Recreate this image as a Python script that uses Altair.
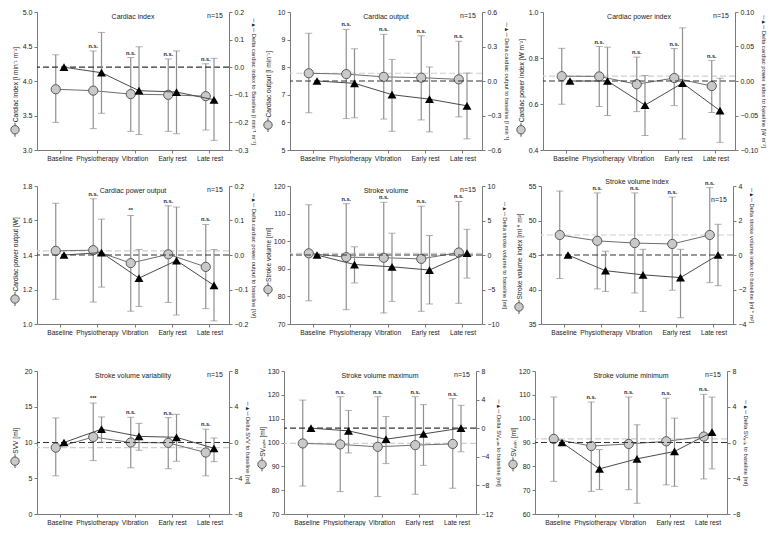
import altair as alt
import numpy as np
import pandas as pd

CATS = ["Baseline", "Physiotherapy", "Vibration", "Early rest", "Late rest"]
N_TEXT = "n=15"
NAN = float("nan")

# 1 Cardiac index
ci_mean = [3.88, 3.86, 3.81, 3.80, 3.78]
ci_lo = [3.40, 3.31, 3.27, 3.27, 3.29]
ci_hi = [4.38, 4.435, 4.34, 4.32, 4.25]
dci_mean = [0.0, -0.02, -0.085, -0.09, -0.118]
dci_lo = [NAN, -0.167, -0.244, -0.241, -0.265]
dci_hi = [NAN, 0.126, 0.074, 0.059, 0.032]
ci_sig = ["", "n.s.", "n.s.", "n.s.", "n.s."]
ci_lticks = [3.0, 3.5, 4.0, 4.5, 5.0]
ci_rticks = [-0.3, -0.2, -0.1, 0.0, 0.1, 0.2]

# 2 Cardiac output
co_mean = [7.78, 7.75, 7.65, 7.62, 7.56]
co_lo = [6.35, 6.14, 6.12, 6.09, 6.20]
co_hi = [9.23, 9.37, 9.19, 9.14, 8.94]
dco_mean = [0.0, -0.02, -0.119, -0.158, -0.216]
dco_lo = [NAN, -0.32, -0.437, -0.442, -0.503]
dco_hi = [NAN, 0.28, 0.188, 0.122, 0.069]
co_sig = ["", "n.s.", "n.s.", "n.s.", "n.s."]
co_lticks = [5, 6, 7, 8, 9, 10]
co_rticks = [-0.6, -0.3, 0.0, 0.3, 0.6]

# 3 Cardiac power index
cpi_mean = [0.721, 0.72, 0.686, 0.713, 0.678]
cpi_lo = [0.599, 0.589, 0.567, 0.593, 0.563]
cpi_hi = [0.842, 0.85, 0.804, 0.841, 0.789]
dcpi_mean = [0.0, 0.0, -0.035, -0.003, -0.043]
dcpi_lo = [NAN, -0.05, -0.079, -0.084, -0.089]
dcpi_hi = [NAN, 0.049, 0.008, 0.077, 0.004]
cpi_sig = ["", "n.s.", "n.s.", "n.s.", "n.s."]
cpi_lticks = [0.4, 0.6, 0.8, 1.0]
cpi_rticks = [-0.10, -0.05, 0.0, 0.05, 0.10]

# 4 Cardiac power output
cpo_mean = [1.424, 1.428, 1.353, 1.404, 1.331]
cpo_lo = [1.143, 1.127, 1.074, 1.125, 1.089]
cpo_hi = [1.70, 1.726, 1.629, 1.685, 1.577]
dcpo_mean = [0.0, 0.007, -0.067, -0.016, -0.088]
dcpo_lo = [NAN, -0.093, -0.149, -0.174, -0.191]
dcpo_hi = [NAN, 0.104, 0.016, 0.139, 0.016]
cpo_sig = ["", "n.s.", "**", "n.s.", "n.s."]
cpo_lticks = [1.0, 1.2, 1.4, 1.6, 1.8]
cpo_rticks = [-0.2, -0.1, 0.0, 0.1, 0.2]

# 5 Stroke volume
sv_mean = [95.6, 94.2, 94.0, 93.6, 95.9]
sv_lo = [78.4, 75.2, 74.0, 74.6, 77.5]
sv_hi = [113.2, 113.6, 114.1, 112.7, 114.4]
dsv_mean = [0.0, -1.38, -1.71, -2.18, 0.26]
dsv_lo = [NAN, -4.05, -6.72, -7.1, -3.35]
dsv_hi = [NAN, 1.19, 3.16, 2.83, 3.72]
sv_sig = ["", "n.s.", "n.s.", "n.s.", "n.s."]
sv_lticks = [70, 80, 90, 100, 110, 120]
sv_rticks = [-10, -5, 0, 5, 10]

# 6 Stroke volume index
svi_mean = [47.9, 47.05, 46.73, 46.6, 47.9]
svi_lo = [41.6, 40.09, 39.5, 39.9, 41.0]
svi_hi = [54.27, 54.0, 54.0, 53.4, 54.77]
dsvi_mean = [0.0, -0.91, -1.15, -1.31, 0.0]
dsvi_lo = [NAN, -2.11, -3.27, -3.64, -1.78]
dsvi_hi = [NAN, 0.22, 0.33, 0.33, 1.78]
svi_sig = ["", "n.s.", "n.s.", "n.s.", "n.s."]
svi_lticks = [35, 40, 45, 50, 55]
svi_rticks = [-4, -2, 0, 2, 4]

# 7 Stroke volume variability
svv_mean = [9.28, 10.77, 10.0, 9.95, 8.6]
svv_lo = [5.34, 7.47, 6.47, 6.33, 5.34]
svv_hi = [13.44, 15.52, 13.53, 13.48, 11.86]
dsvv_mean = [0.0, 1.49, 0.69, 0.58, -0.65]
dsvv_lo = [NAN, 0.04, -0.87, -2.1, -2.14]
dsvv_hi = [NAN, 2.86, 2.14, 3.15, 0.51]
svv_sig = ["", "***", "n.s.", "n.s.", "n.s."]
svv_lticks = [0, 5, 10, 15, 20]
svv_rticks = [-8, -4, 0, 4, 8]

# 8 Stroke volume maximum
svmax_mean = [99.6, 99.2, 98.2, 98.9, 99.4]
svmax_lo = [81.75, 79.4, 77.3, 78.3, 80.8]
svmax_hi = [117.8, 119.2, 119.2, 119.2, 118.4]
dsvmax_mean = [0.0, -0.37, -1.54, -0.8, 0.0]
dsvmax_lo = [NAN, -3.46, -4.95, -5.2, -3.3]
dsvmax_hi = [NAN, 2.48, 1.64, 3.3, 3.2]
svmax_sig = ["", "n.s.", "n.s.", "n.s.", "n.s."]
svmax_lticks = [70, 80, 90, 100, 110, 120, 130]
svmax_rticks = [-12, -8, -4, 0, 4, 8]

# 9 Stroke volume minimum
svmin_mean = [91.5, 88.5, 89.4, 90.5, 92.5]
svmin_lo = [73.7, 69.5, 70.2, 72.2, 74.7]
svmin_hi = [109.1, 107.0, 109.1, 108.6, 110.2]
dsvmin_mean = [0.0, -2.95, -1.83, -1.0, 1.16]
dsvmin_lo = [NAN, -5.27, -6.8, -4.9, -2.95]
dsvmin_hi = [NAN, -0.79, 1.98, 2.73, 5.08]
svmin_sig = ["", "n.s.", "n.s.", "n.s.", "n.s."]
svmin_lticks = [60, 70, 80, 90, 100, 110, 120]
svmin_rticks = [-8, -4, 0, 4, 8]

PANELS = [
    dict(title="Cardiac index", lt="Cardiac index [l min⁻¹ m⁻²]",
         rt="Delta cardiac index to Baseline [l min⁻¹ m⁻²]",
         cm=ci_mean, clo=ci_lo, chi=ci_hi, tm=dci_mean, tlo=dci_lo, thi=dci_hi,
         sig=ci_sig, base=None, ldom=[3, 5], lvals=ci_lticks, lfmt=".1f",
         rdom=[-0.3, 0.2], rvals=ci_rticks, rfmt=".1f"),
    dict(title="Cardiac output", lt="Cardiac output [l min⁻¹]",
         rt="Delta cardiac output to baseline [l min⁻¹]",
         cm=co_mean, clo=co_lo, chi=co_hi, tm=dco_mean, tlo=dco_lo, thi=dco_hi,
         sig=co_sig, base=co_mean[0], ldom=[5, 10], lvals=co_lticks, lfmt="d",
         rdom=[-0.6, 0.6], rvals=co_rticks, rfmt=".1f"),
    dict(title="Cardiac power index", lt="Cardiac power index [W m⁻²]",
         rt="Delta cardiac power index to baseline [W m⁻²]",
         cm=cpi_mean, clo=cpi_lo, chi=cpi_hi, tm=dcpi_mean, tlo=dcpi_lo, thi=dcpi_hi,
         sig=cpi_sig, base=cpi_mean[0], ldom=[0.4, 1.0], lvals=cpi_lticks, lfmt=".1f",
         rdom=[-0.1, 0.1], rvals=cpi_rticks, rfmt=".2f"),
    dict(title="Cardiac power output", lt="Cardiac power output [W]",
         rt="Delta cardiac power output to baseline [W]",
         cm=cpo_mean, clo=cpo_lo, chi=cpo_hi, tm=dcpo_mean, tlo=dcpo_lo, thi=dcpo_hi,
         sig=cpo_sig, base=cpo_mean[0], ldom=[1.0, 1.8], lvals=cpo_lticks, lfmt=".1f",
         rdom=[-0.2, 0.2], rvals=cpo_rticks, rfmt=".1f"),
    dict(title="Stroke volume", lt="Stroke volume [ml]",
         rt="Delta stroke volume to baseline [ml]",
         cm=sv_mean, clo=sv_lo, chi=sv_hi, tm=dsv_mean, tlo=dsv_lo, thi=dsv_hi,
         sig=sv_sig, base=sv_mean[0], ldom=[70, 120], lvals=sv_lticks, lfmt="d",
         rdom=[-10, 10], rvals=sv_rticks, rfmt="d"),
    dict(title="Stroke volume index", lt="Stroke volume index [ml * m²]",
         rt="Delta stroke volume index to baseline [ml * m²]",
         cm=svi_mean, clo=svi_lo, chi=svi_hi, tm=dsvi_mean, tlo=dsvi_lo, thi=dsvi_hi,
         sig=svi_sig, base=svi_mean[0], ldom=[35, 55], lvals=svi_lticks, lfmt="d",
         rdom=[-4, 4], rvals=svi_rticks, rfmt="d", title_y=-8, n_y=10),
    dict(title="Stroke volume variability", lt="SVV [ml]",
         rt="Delta SVV to baseline [ml]",
         cm=svv_mean, clo=svv_lo, chi=svv_hi, tm=dsvv_mean, tlo=dsvv_lo, thi=dsvv_hi,
         sig=svv_sig, base=svv_mean[0], ldom=[0, 20], lvals=svv_lticks, lfmt="d",
         rdom=[-8, 8], rvals=svv_rticks, rfmt="d"),
    dict(title="Stroke volume maximum", lt="SVₘₐₓ [ml]",
         rt="Delta SVₘₐₓ to baseline [ml]",
         cm=svmax_mean, clo=svmax_lo, chi=svmax_hi, tm=dsvmax_mean, tlo=dsvmax_lo, thi=dsvmax_hi,
         sig=svmax_sig, base=svmax_mean[0], ldom=[70, 130], lvals=svmax_lticks, lfmt="d",
         rdom=[-12, 8], rvals=svmax_rticks, rfmt="d"),
    dict(title="Stroke volume minimum", lt="SVₘᵢₙ [ml]",
         rt="Delta SVₘᵢₙ to baseline [ml]",
         cm=svmin_mean, clo=svmin_lo, chi=svmin_hi, tm=dsvmin_mean, tlo=dsvmin_lo, thi=dsvmin_hi,
         sig=svmin_sig, base=svmin_mean[0], ldom=[60, 120], lvals=svmin_lticks, lfmt="d",
         rdom=[-8, 8], rvals=svmin_rticks, rfmt="d"),
]

PW = 192
FS = 7.0
XFS = 6.7
TFS = 6.6
RTFS = 5.8
OFF = 0.22
FONT = "Liberation Sans"
ERR = "#8f8f8f"
AX = "#7a7a7a"
TXT = "#222222"
TITLE_X = -19

label_js = "[" + ",".join("'" + c + "'" for c in CATS) + "]"


def make_panel(p, PH):
    idx = np.arange(len(CATS), dtype=float)
    cdf = pd.DataFrame({"x": idx, "m": p["cm"], "lo": p["clo"], "hi": p["chi"], "sig": p["sig"]})
    tdf = pd.DataFrame({"x": idx + OFF, "m": p["tm"], "lo": p["tlo"], "hi": p["thi"]})
    terr = tdf.dropna()

    xs = alt.Scale(domain=[-0.5, 4.62], nice=False, zero=False)
    xa = alt.Axis(values=[float(v) for v in idx + 0.1],
                  labelExpr=label_js + "[round(datum.value - 0.1)]",
                  title=None, grid=False, labelOverlap=False, labelFlush=False,
                  labelFontSize=XFS)
    X = alt.X("x:Q", scale=xs, axis=xa)

    # left axis; its symbol sits at the start of the title
    est = len(p["lt"]) * TFS * 0.48
    sym_y = min(PH / 2 + (est + 12) / 2, PH - 5)
    ls = alt.Scale(domain=p["ldom"], nice=False, zero=False)
    la = alt.Axis(orient="left", values=p["lvals"], format=p["lfmt"], grid=False,
                  title=p["lt"], titleX=TITLE_X, titleY=sym_y - 8, titleAlign="left",
                  titleAngle=270, titleBaseline="bottom", titleFontSize=TFS)

    def LY(f):
        return alt.Y(f, scale=ls, axis=la)

    left_layers = []
    if p["base"] is not None:
        left_layers.append(
            alt.Chart(pd.DataFrame({"b": [p["base"]]}))
            .mark_rule(color="#cfcfcf", strokeDash=[6, 3], strokeWidth=1.2)
            .encode(y=LY("b:Q")))
    left_layers += [
        alt.Chart(cdf).mark_rule(color=ERR, strokeWidth=1.2)
        .encode(x=X, y=LY("lo:Q"), y2="hi:Q"),
        alt.Chart(cdf).transform_fold(["lo", "hi"], as_=["k", "v"])
        .mark_tick(color=ERR, orient="horizontal", size=7, thickness=1)
        .encode(x=X, y=LY("v:Q")),
        alt.Chart(cdf).mark_line(color="#6e6e6e", strokeWidth=1)
        .encode(x=X, y=LY("m:Q")),
        alt.Chart(cdf).mark_point(shape="circle", filled=True, size=85, fill="#c9c9c9",
                                  stroke="#5a5a5a", strokeWidth=1, opacity=1)
        .encode(x=X, y=LY("m:Q")),
        alt.Chart(cdf).transform_filter("datum.sig != ''")
        .mark_text(font=FONT, fontSize=5.6, fontWeight="bold", color=TXT, fill=TXT,
                   baseline="bottom", dy=-2)
        .encode(x=X, y=LY("hi:Q"), text="sig:N"),
        alt.Chart(pd.DataFrame({"t": [p["title"]]}))
        .mark_text(font=FONT, fontSize=FS, color=TXT, fill=TXT, baseline="top")
        .encode(x=alt.value(PW / 2), y=alt.value(p.get("title_y", 1)), text="t:N"),
        alt.Chart(pd.DataFrame({"t": [N_TEXT]}))
        .mark_text(font=FONT, fontSize=FS, color=TXT, fill=TXT, baseline="top")
        .encode(x=alt.value(PW - 14), y=alt.value(p.get("n_y", 0)), text="t:N"),
        alt.Chart(pd.DataFrame({"t": [0]}))
        .mark_rule(color="#555555", strokeWidth=1)
        .encode(x=alt.value(TITLE_X - 3), y=alt.value(sym_y - 7), y2=alt.value(sym_y + 7)),
        alt.Chart(pd.DataFrame({"t": [0]}))
        .mark_point(shape="circle", filled=True, size=70, fill="#c9c9c9",
                    stroke="#5a5a5a", strokeWidth=1, opacity=1)
        .encode(x=alt.value(TITLE_X - 3), y=alt.value(sym_y)),
    ]
    left = alt.layer(*left_layers)

    rs = alt.Scale(domain=p["rdom"], nice=False, zero=False)
    ra = alt.Axis(orient="right", values=p["rvals"], format=p["rfmt"], grid=False,
                  title="─▲─ " + p["rt"], titleFontSize=RTFS)

    def RY(f):
        return alt.Y(f, scale=rs, axis=ra)

    right = alt.layer(
        alt.Chart(pd.DataFrame({"z": [0.0]}))
        .mark_rule(color="#333333", strokeDash=[6, 3], strokeWidth=1.2)
        .encode(y=RY("z:Q")),
        alt.Chart(terr).mark_rule(color=ERR, strokeWidth=1.2)
        .encode(x=X, y=RY("lo:Q"), y2="hi:Q"),
        alt.Chart(terr).transform_fold(["lo", "hi"], as_=["k", "v"])
        .mark_tick(color=ERR, orient="horizontal", size=7, thickness=1)
        .encode(x=X, y=RY("v:Q")),
        alt.Chart(tdf).mark_line(color="#4a4a4a", strokeWidth=1)
        .encode(x=X, y=RY("m:Q")),
        alt.Chart(tdf).mark_point(shape="triangle-up", filled=True, size=80,
                                  color="#000000", opacity=1)
        .encode(x=X, y=RY("m:Q")),
    )
    return alt.layer(left, right).resolve_scale(y="independent").properties(width=PW, height=PH)


heights = [138, 138, 138, 138, 138, 138, 143, 143, 143]
panels = [make_panel(p, h) for p, h in zip(PANELS, heights)]
row1 = alt.hconcat(*panels[0:3], spacing=4)
row2 = alt.hconcat(*panels[3:6], spacing=4)
row3 = alt.hconcat(*panels[6:9], spacing=4)

chart = (
    alt.vconcat(alt.vconcat(row1, row2, spacing=16), row3, spacing=31)
    .properties(padding={"left": 0, "top": 0, "right": 0, "bottom": 0}, background="white")
    .configure_view(stroke=None)
    .configure_axis(labelFont=FONT, titleFont=FONT, labelFontSize=FS, titleFontSize=TFS,
                    labelColor=TXT, titleColor=TXT, domainColor=AX, tickColor=AX,
                    tickSize=3, labelPadding=2, titlePadding=3, titleFontWeight="normal")
)

chart.save("out.html", embed_options={"renderer": "svg", "actions": False})
